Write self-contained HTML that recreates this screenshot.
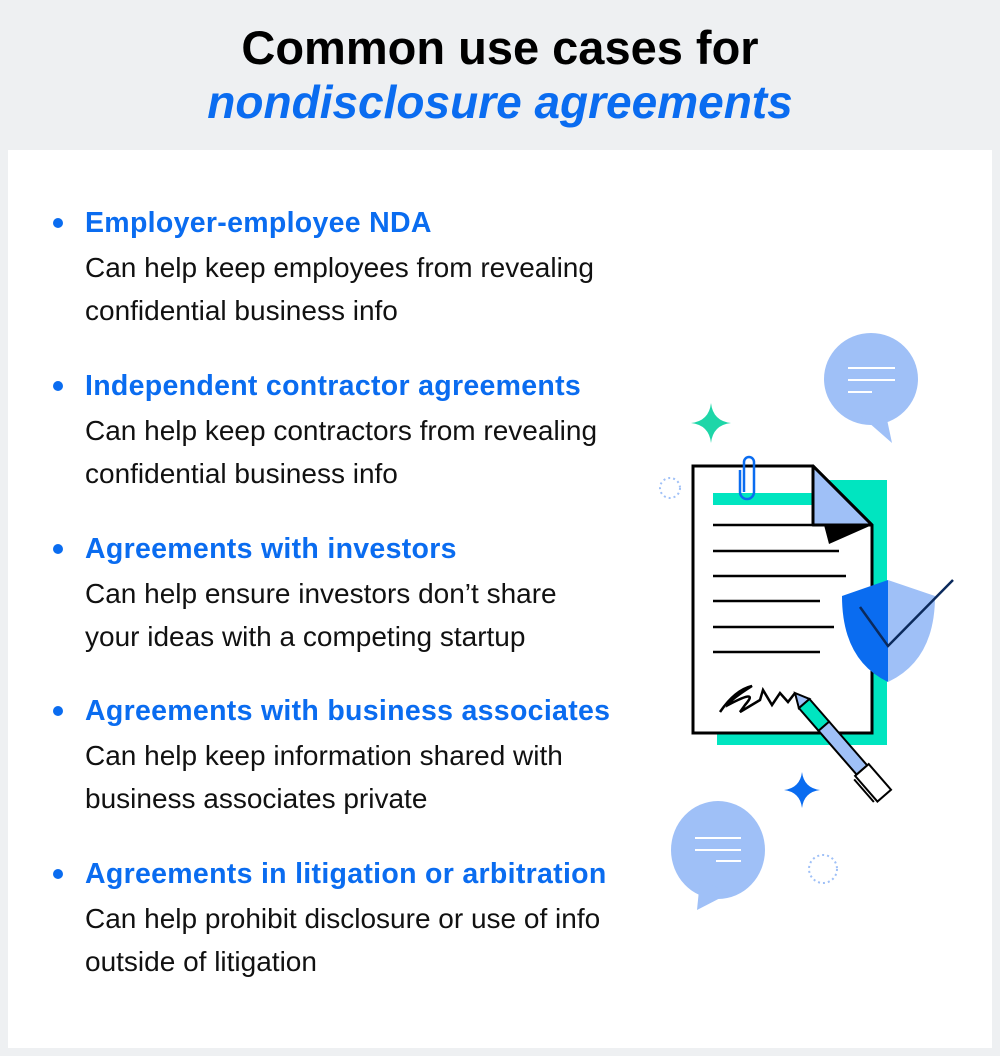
<!DOCTYPE html>
<html><head><meta charset="utf-8"><style>
body{margin:0;width:1000px;height:1056px;background:#eef0f2;font-family:"Liberation Sans",sans-serif;position:relative;overflow:hidden}
.t{position:absolute;left:0;width:1000px;text-align:center;font-weight:bold;font-size:47px;color:#000}
.panel{position:absolute;left:8px;top:150px;width:984px;height:898px;background:#fff}
.item{position:absolute;left:85px;}
.h{font-weight:bold;color:#0a6cf0;font-size:28.5px;line-height:32px;white-space:nowrap;letter-spacing:0.3px}
.b{font-size:28px;line-height:43px;color:#111;white-space:nowrap;margin-top:7px}
.dot{position:absolute;left:-32px;top:11px;width:10px;height:10px;border-radius:50%;background:#0a6cf0}
</style></head><body>
<div class="t" style="top:20px">Common use cases for</div>
<div class="t" style="top:75px;color:#0a6cf0;font-style:italic;font-size:46px">nondisclosure agreements</div>
<div class="panel"></div>
<div class="item" style="top:207px"><div class="dot"></div><div class="h">Employer-employee NDA</div><div class="b">Can help keep employees from revealing<br>confidential business info</div></div>
<div class="item" style="top:370px"><div class="dot"></div><div class="h">Independent contractor agreements</div><div class="b">Can help keep contractors from revealing<br>confidential business info</div></div>
<div class="item" style="top:533px"><div class="dot"></div><div class="h">Agreements with investors</div><div class="b">Can help ensure investors don’t share<br>your ideas with a competing startup</div></div>
<div class="item" style="top:695px"><div class="dot"></div><div class="h">Agreements with business associates</div><div class="b">Can help keep information shared with<br>business associates private</div></div>
<div class="item" style="top:858px"><div class="dot"></div><div class="h">Agreements in litigation or arbitration</div><div class="b">Can help prohibit disclosure or use of info<br>outside of litigation</div></div>
<svg style="position:absolute;left:0;top:0" width="1000" height="1056">
<ellipse cx="871" cy="379" rx="47" ry="46" fill="#9fc0f7"/>
<path d="M860 415 L892 443 L885 410 Z" fill="#9fc0f7"/>
<g stroke="#fff" stroke-width="2"><line x1="848" y1="368" x2="895" y2="368"/><line x1="848" y1="380" x2="895" y2="380"/><line x1="848" y1="392" x2="872" y2="392"/></g>
<ellipse cx="718" cy="850" rx="47" ry="49" fill="#9fc0f7"/>
<path d="M700 880 L697 910 L730 893 Z" fill="#9fc0f7"/>
<g stroke="#fff" stroke-width="2"><line x1="695" y1="838" x2="741" y2="838"/><line x1="695" y1="850" x2="741" y2="850"/><line x1="716" y1="861" x2="741" y2="861"/></g>
<path d="M711 403 Q713 421 731 423 Q713 425 711 443 Q709 425 691 423 Q709 421 711 403Z" fill="#1ed6a8"/>
<path d="M802 772 Q804 788 820 790 Q804 792 802 808 Q800 792 784 790 Q800 788 802 772Z" fill="#0a6cf0"/>
<circle cx="670" cy="488" r="10" fill="none" stroke="#9fc0f7" stroke-width="2" stroke-dasharray="2 3"/>
<circle cx="823" cy="869" r="14" fill="none" stroke="#9fc0f7" stroke-width="2" stroke-dasharray="2 3"/>
<rect x="717" y="480" width="170" height="265" fill="#00e5c0"/>
<path d="M693 466 H813 L872 525 V733 H693 Z" fill="#fff" stroke="#000" stroke-width="3"/>
<rect x="713" y="493" width="100" height="12" fill="#00e5c0"/>
<path d="M813 466 V525 H872 Z" fill="#9fc0f7" stroke="#000" stroke-width="3" stroke-linejoin="round"/>
<path d="M824 525 H872 L829 544 Z" fill="#000"/>
<path d="M744 492 V462 A5 5 0 0 1 754 462 V492 A7 7 0 0 1 740 492 V470" fill="none" stroke="#0a6cf0" stroke-width="2.5"/>
<g stroke="#000" stroke-width="2.5"><line x1="713" y1="525" x2="813" y2="525"/><line x1="713" y1="551" x2="839" y2="551"/><line x1="713" y1="576" x2="846" y2="576"/><line x1="713" y1="601" x2="820" y2="601"/><line x1="713" y1="627" x2="834" y2="627"/><line x1="713" y1="652" x2="820" y2="652"/></g>
<path d="M888 580 L935 596 Q935 660 888 682 Z" fill="#9fc0f7"/>
<path d="M888 580 L842 596 Q842 660 888 682 Z" fill="#0a6cf0"/>
<polyline points="860,607 888,646 953,580" fill="none" stroke="#0b2a5c" stroke-width="2.5"/>
<path d="M720 712 Q735 690 752 686 Q730 700 728 705 Q760 688 745 705 L740 712 L760 700 L763 690 L772 705 L780 693 L788 702 L795 693" fill="none" stroke="#000" stroke-width="2.5"/>
<g transform="translate(795 693) rotate(49)">
<path d="M0 0 L14 -7 L14 7 Z" fill="#9fc0f7" stroke="#000" stroke-width="2"/>
<rect x="14" y="-7" width="30" height="14" fill="#00e5c0" stroke="#000" stroke-width="2"/>
<rect x="44" y="-7" width="58" height="14" fill="#9fc0f7" stroke="#000" stroke-width="2"/>
<rect x="102" y="-9" width="34" height="18" fill="#fff" stroke="#000" stroke-width="2"/>
<line x1="104" y1="12" x2="134" y2="12" stroke="#000" stroke-width="2"/>
</g>
</svg>
</body></html>
